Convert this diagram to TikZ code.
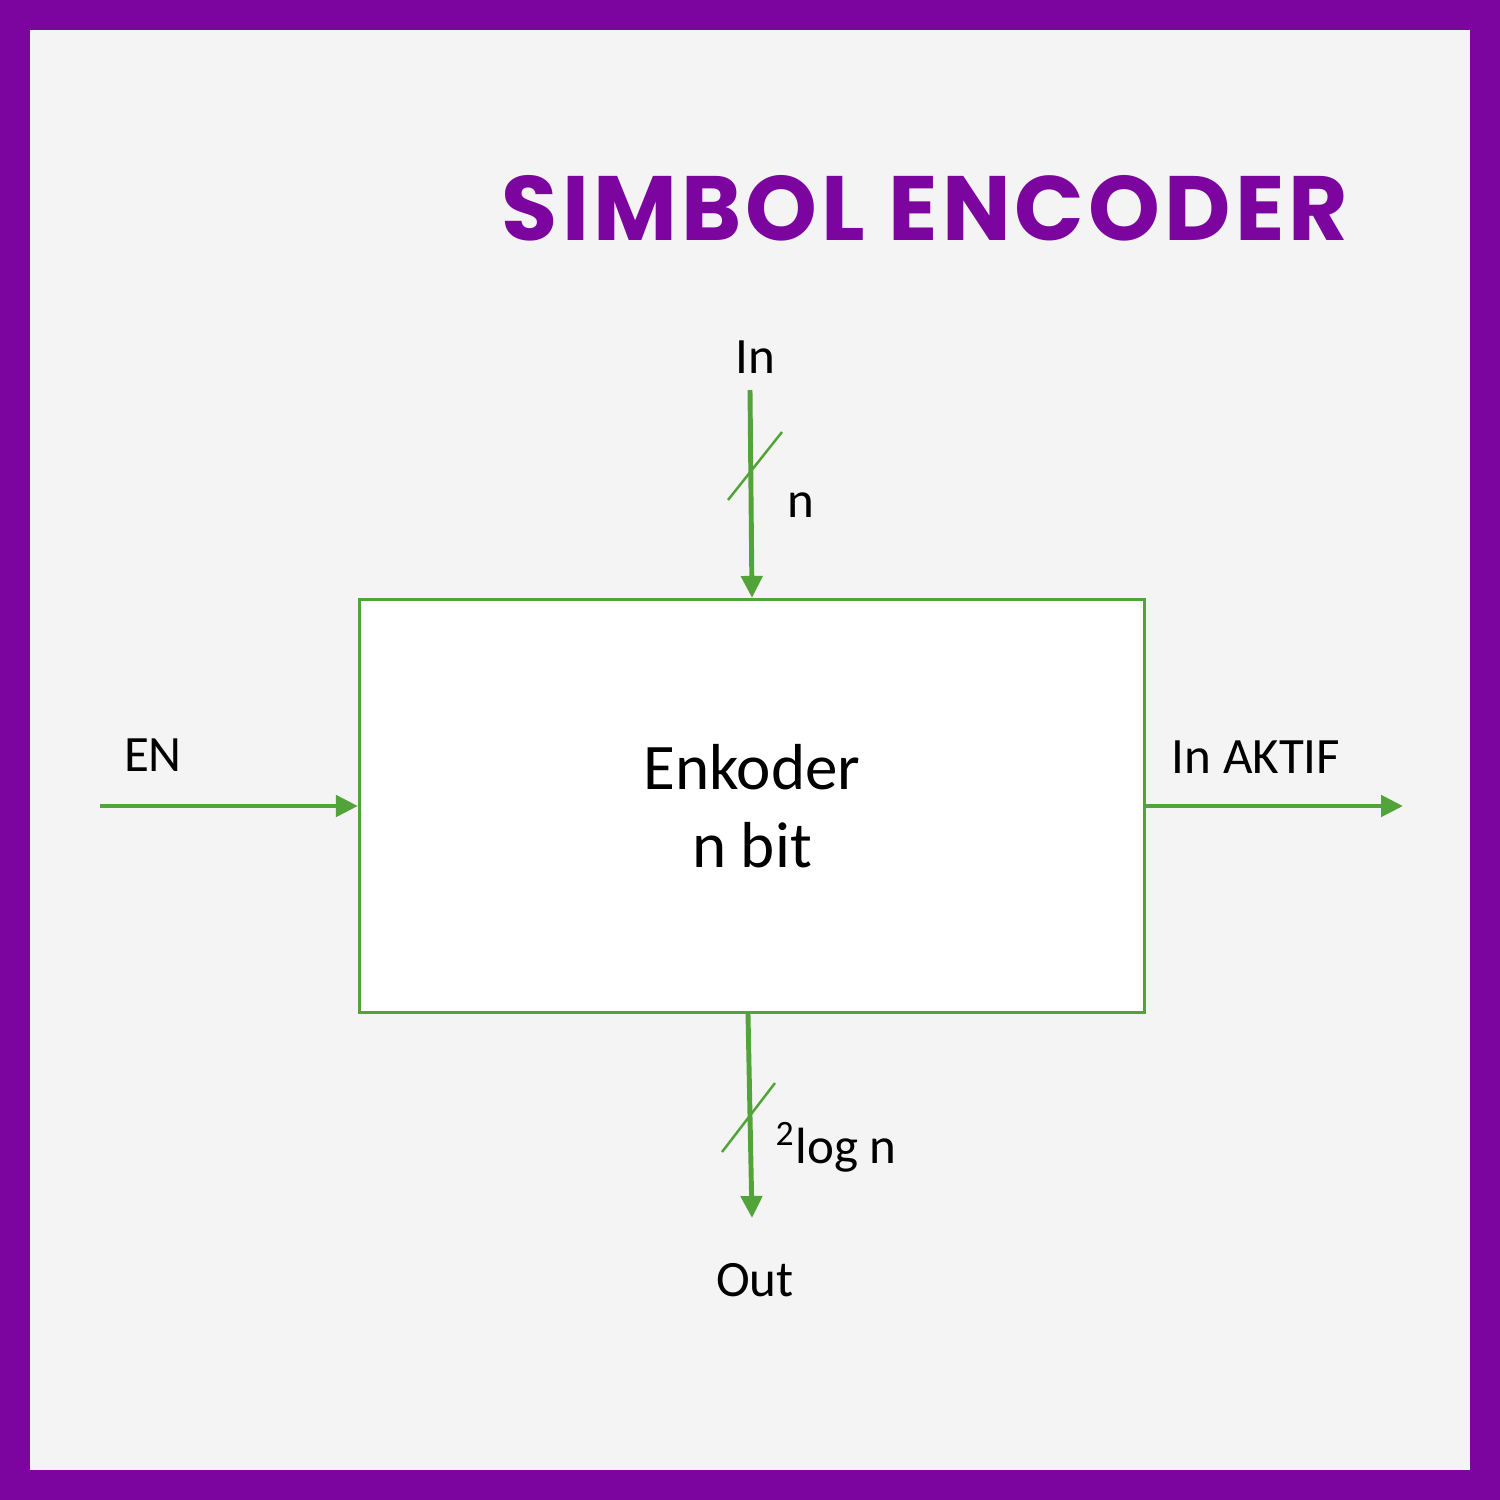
\documentclass[tikz,border=0pt]{standalone}
\usepackage{fontspec}
\setmainfont{Carlito}
\newfontfamily\titlefont{Poppins}[LetterSpace=4.5]
\usetikzlibrary{arrows.meta}
\definecolor{frame}{HTML}{7B059E}
\definecolor{wire}{HTML}{52A43A}
\definecolor{paper}{HTML}{F4F4F4}
\begin{document}
\begin{tikzpicture}[x=0.1mm,y=-0.1mm,
  wirearrow/.style={draw=wire, line width=1.4pt, -{Triangle[length=2.2mm,width=2.1mm]}},
  buswidth/.style={draw=wire, line width=0.7pt},
  lbl/.style={font=\fontsize{14.5}{16}\selectfont, inner sep=0pt}]
\fill[frame] (0,0) rectangle (1500,1500);
\fill[paper] (30,30) rectangle (1470,1470);
\node[font=\titlefont\bfseries\fontsize{26}{30}\selectfont, text=frame] (title) at (925,208) {SIMBOL ENCODER};
\node[draw=wire, fill=white, line width=0.9pt, minimum width=78.5mm, minimum height=41.3mm, align=center, font=\fontsize{18.5}{22}\selectfont] (enc) at (752,806) {Enkoder\\n bit};
\coordinate (intop) at (750,390);
\coordinate (enstart) at (100,806);
\coordinate (aktifend) at (1403,806);
\coordinate (outend) at (752,1218);
\draw[wirearrow] (intop) -- (enc.north);
\draw[wirearrow] (enstart) -- (enc.west);
\draw[wirearrow] (enc.east) -- (aktifend);
\draw[wirearrow] ([xshift=-0.4mm]enc.south) -- (outend);
\draw[buswidth] (728,500) -- (782,432);
\draw[buswidth] (722,1152) -- (775,1083);
\node[lbl] (inlbl) at (755,357) {In};
\node[lbl] (nlbl) at (801,505) {n};
\node[lbl] (enlbl) at (153,755) {EN};
\node[lbl] (aktiflbl) at (1256,757) {In AKTIF};
\node[lbl] (loglbl) at (836,1147) {\textsuperscript{2}log n};
\node[lbl] (outlbl) at (755,1280) {Out};
\end{tikzpicture}
\end{document}
